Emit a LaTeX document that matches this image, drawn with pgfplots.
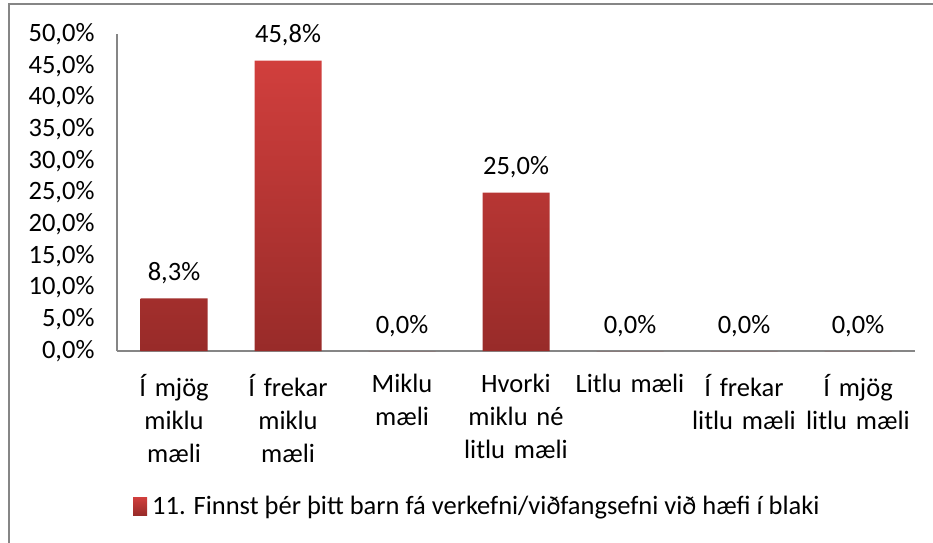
\documentclass[border=0pt]{standalone}
\usepackage{pgfplots}
\pgfplotsset{compat=1.18}
\usepackage{fontspec}
\setmainfont{Carlito}
\definecolor{bartop}{HTML}{D13F3D}
\definecolor{barbot}{HTML}{982B29}
\definecolor{axgray}{HTML}{868686}
\newcommand{\cfont}{\fontsize{26.5}{33}\selectfont}
\begin{document}
\begin{tikzpicture}[x=1pt,y=1pt]
\path[use as bounding box] (0,0) rectangle (933,542);
\draw[axgray, line width=1.5pt] (9,-2) -- (9,538) -- (940,538);
\begin{axis}[
  at={(117pt,191pt)}, anchor=south west,
  scale only axis, width=798pt, height=317pt,
  ymin=0, ymax=50, ytick={0,5,...,50},
  xmin=-0.5, xmax=6.5, xtick={0,...,6},
  xticklabels={{Í mjög\\miklu\\mæli},{Í frekar\\miklu\\mæli},{Miklu\\mæli},{Hvorki\\miklu né\\litlu mæli},{Litlu mæli},{Í frekar\\litlu mæli},{Í mjög\\litlu mæli}},
  axis lines=left,
  axis line style={axgray, line width=1.5pt, -},
  major tick length=0pt,
  /pgf/number format/assume math mode=true,
  yticklabel={\pgfmathprintnumber[fixed,fixed zerofill,precision=1,use comma]{\tick}\%},
  yticklabel style={font=\cfont, anchor=east, xshift=-19pt},
  xticklabel style={font=\cfont, align=center, text width=118pt, anchor=north, yshift=-20pt},
  ybar, bar width=67pt,
  nodes near coords={\pgfmathprintnumber[fixed,fixed zerofill,precision=1,use comma]{\pgfplotspointmeta}\%},
  nodes near coords style={font=\cfont, text=black, anchor=south, yshift=11pt},
  legend style={at={(0.02,-0.489)}, anchor=west, draw=none, fill=none, font=\cfont, inner sep=0pt},
  legend image code/.code={\fill[bottom color=barbot, top color=bartop] (0pt,-9pt) rectangle (14pt,9pt);},
  clip=false,
]
\addplot[draw=none, top color=bartop, bottom color=barbot] coordinates {(0,8.3) (1,45.8) (2,0) (3,25.0) (4,0) (5,0) (6,0)};
\addlegendentry{\hspace{3pt}11. Finnst þér þitt barn fá verkefni/viðfangsefni við hæfi í blaki}
\end{axis}
\end{tikzpicture}
\end{document}
